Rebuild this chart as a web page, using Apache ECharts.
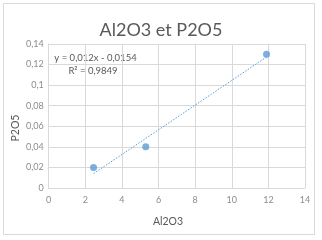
<!DOCTYPE html>
<html><head><meta charset="utf-8">
<script src="https://cdn.jsdelivr.net/npm/echarts@6/dist/echarts.min.js"></script>
<style>html,body{margin:0;padding:0;background:#fff}#c{width:322px;height:240px}</style>
</head><body><div id="c"></div>
<script>
var chartTitle = 'Al2O3 et P2O5';
var xName = 'Al2O3';
var yName = 'P2O5';
var al2o3 = [2.45, 5.3, 11.9];
var p2o5 = [0.02, 0.04, 0.13];
var trendX = [2.45, 11.9];
var trendY = [0.0140, 0.1274];
var eqLines = ['y = 0,012x - 0,0154', 'R\u00B2 = 0,9849'];

var pts = al2o3.map(function(x, i){ return [x, p2o5[i]]; });
var trend = trendX.map(function(x, i){ return [x, trendY[i]]; });
var font = 'Lato, "Open Sans", sans-serif';
var fmt = function(v){ return String(parseFloat(v.toFixed(3))).replace('.', ','); };

var chart = echarts.init(document.getElementById('c'), null, {renderer:'canvas'});
chart.setOption({
  animation: false,
  backgroundColor: '#fff',
  title: {
    text: chartTitle, left: 161, top: 21, textAlign: 'center', padding: 0,
    textStyle: {fontFamily: font, fontSize: 18, fontWeight: 'normal', color: '#595959'}
  },
  grid: {left: 48.7, right: 17, top: 44, bottom: 52, containLabel: false},
  xAxis: {
    type: 'value', min: 0, max: 14, interval: 2,
    axisLine: {show: true, lineStyle: {color: '#d9d9d9'}},
    axisTick: {show: false},
    axisLabel: {fontFamily: font, fontSize: 9, color: '#8c8c8c', margin: 8, formatter: fmt},
    splitLine: {show: true, lineStyle: {color: '#d9d9d9'}}
  },
  yAxis: {
    type: 'value', min: 0, max: 0.14, interval: 0.02,
    axisLine: {show: true, lineStyle: {color: '#d9d9d9'}},
    axisTick: {show: false},
    axisLabel: {fontFamily: font, fontSize: 9, color: '#8c8c8c', margin: 5, formatter: fmt},
    splitLine: {show: true, lineStyle: {color: '#d9d9d9'}}
  },
  graphic: [
    {type: 'rect', shape: {x: 3.5, y: 3.5, width: 311, height: 231}, style: {fill: 'none', stroke: '#d9d9d9', lineWidth: 1}, silent: true},
    {type: 'text', x: 95.5, y: 58, style: {text: eqLines[0], fontFamily: font, fontSize: 9.5, fill: '#595959', align: 'center', verticalAlign: 'middle'}},
    {type: 'text', x: 93, y: 70.5, style: {text: eqLines[1], fontFamily: font, fontSize: 9.5, fill: '#595959', align: 'center', verticalAlign: 'middle'}},
    {type: 'text', x: 168, y: 222, style: {text: xName, fontFamily: font, fontSize: 10.5, fill: '#595959', align: 'center', verticalAlign: 'middle'}},
    {type: 'text', x: 16, y: 128, rotation: Math.PI / 2, style: {text: yName, fontFamily: font, fontSize: 10.5, fill: '#595959', align: 'center', verticalAlign: 'middle'}}
  ],
  series: [
    {type: 'line', data: trend, showSymbol: false, symbol: 'none',
     lineStyle: {color: '#5B9BD5', width: 1, type: [1.5, 1.5]}, z: 1},
    {type: 'scatter', data: pts, symbol: 'circle', symbolSize: 7,
     itemStyle: {color: '#5B9BD5'}, z: 2}
  ]
});
</script></body></html>
